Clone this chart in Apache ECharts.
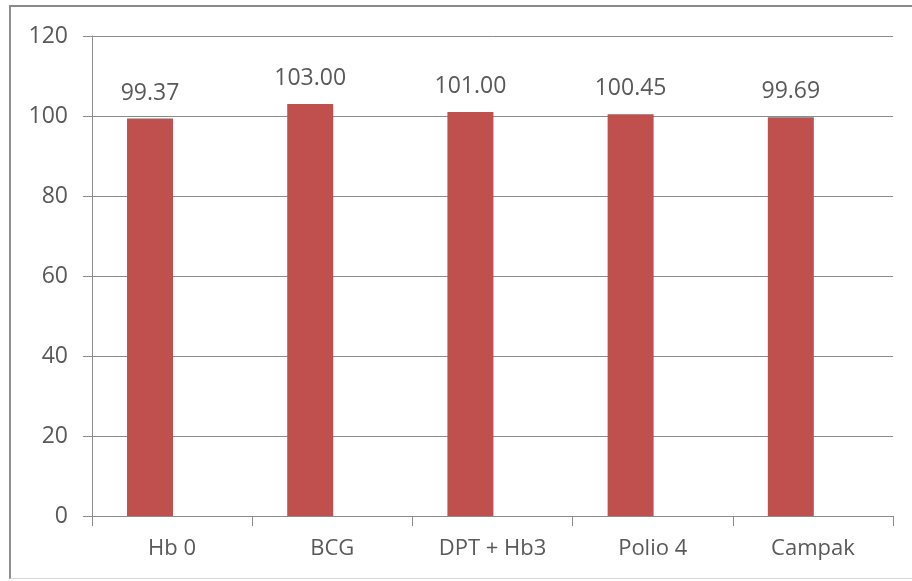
<!DOCTYPE html>
<html>
<head>
<meta charset="utf-8">
<script src="https://cdn.jsdelivr.net/npm/echarts@6/dist/echarts.min.js"></script>
<style>
html,body{margin:0;padding:0;background:#fff;}
#frame{position:absolute;left:9px;top:5px;width:920px;height:571px;border-left:2px solid #8f8f8f;border-top:2px solid #8a8a8a;border-bottom:1px solid #d8d8d8;}
#chart{position:absolute;left:0;top:0;width:912px;height:581px;}
</style>
</head>
<body>
<div id="frame"></div>
<div id="chart"></div>
<script>
const categories = ['Hb 0', 'BCG', 'DPT + Hb3', 'Polio 4', 'Campak'];
const values = [99.37, 103.00, 101.00, 100.45, 99.69];
const emptySeries = ['-', '-', '-', '-', '-'];
const yTicks = { min: 0, max: 120, interval: 20 };

const chart = echarts.init(document.getElementById('chart'), null, { renderer: 'canvas' });
const font = 'Open Sans';
const txt = '#595959';
chart.setOption({
  animation: false,
  backgroundColor: 'transparent',
  grid: { left: 92, top: 36, right: 19, bottom: 65, containLabel: false },
  xAxis: {
    type: 'category',
    data: categories,
    axisLine: { show: true, lineStyle: { color: '#8c8c8c', width: 1 } },
    axisTick: { show: true, length: 10, alignWithLabel: false, lineStyle: { color: '#8c8c8c' } },
    axisLabel: { color: txt, fontFamily: font, fontSize: 22, margin: 22 },
    splitLine: { show: false }
  },
  yAxis: {
    type: 'value',
    min: yTicks.min, max: yTicks.max, interval: yTicks.interval,
    axisLine: { show: true, lineStyle: { color: '#8c8c8c', width: 1 } },
    axisTick: { show: true, length: 9, lineStyle: { color: '#8c8c8c' } },
    axisLabel: { color: txt, fontFamily: font, fontSize: 23, margin: 24 },
    splitLine: { show: true, lineStyle: { color: '#8c8c8c', width: 1 } }
  },
  series: [
    {
      type: 'bar',
      data: values,
      barWidth: 46,
      barGap: '-4%',
      itemStyle: { color: '#C0504D' },
      label: {
        show: true, position: 'top', distance: 14,
        color: txt, fontFamily: font, fontSize: 23,
        formatter: p => p.value.toFixed(2)
      }
    },
    {
      type: 'bar',
      data: emptySeries,
      barWidth: 46,
      itemStyle: { color: 'transparent' }
    }
  ]
});
</script>
</body>
</html>
